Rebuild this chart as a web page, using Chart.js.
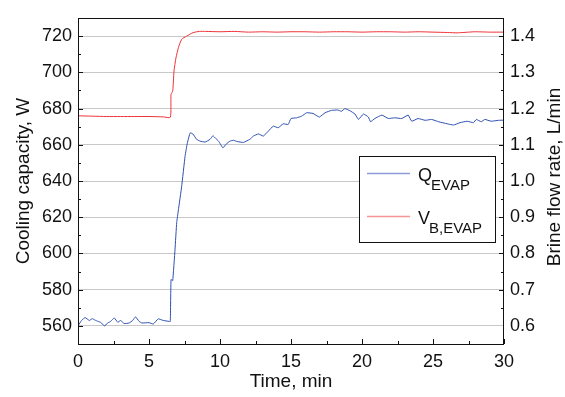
<!DOCTYPE html>
<html>
<head>
<meta charset="utf-8">
<script src="https://cdn.jsdelivr.net/npm/chart.js@4"></script>
<style>
  html, body { margin: 0; padding: 0; background: #fff; }
  #wrap { width: 565px; height: 397px; position: relative; }
</style>
</head>
<body>
<div id="wrap"><canvas id="CoolingChart"></canvas></div>
<script>
// Data
const qTime = [0, 0.25, 0.5, 0.8, 1.0, 1.2, 1.4, 1.6, 1.85, 2.1, 2.3, 2.55, 2.8, 3.0, 3.25, 3.6, 3.85, 4.05, 4.3, 4.5, 5.0, 5.3, 5.65, 6.0, 6.4, 6.5,
  6.55, 6.67, 6.83, 6.95, 7.07, 7.3, 7.54, 7.7, 7.9, 8.1, 8.35, 8.6, 8.95, 9.3, 9.5, 9.7, 9.9, 10.2, 10.45, 10.7, 10.95, 11.2, 11.65,
  12.1, 12.35, 12.7, 13.05, 13.4, 13.75, 14.1, 14.45, 14.8, 15.0, 15.4, 15.75, 16.1, 16.55, 17.0, 17.4, 17.85, 18.3, 18.55, 18.8,
  19.15, 19.5, 19.75, 20.1, 20.45, 20.6, 20.9, 21.4, 21.85, 22.3, 22.8, 23.25, 23.5, 23.95, 24.45, 24.9, 25.4, 26.0, 26.45, 26.9,
  27.4, 27.85, 28.05, 28.4, 28.65, 29.1, 29.6, 30];
const qValues = [560, 563, 564.6, 563, 564, 563.2, 562.5, 562, 560, 561.6, 562.5, 564.4, 562, 563, 561.3, 561.6, 563, 565, 562.5, 561.6, 561.8, 561, 563.9, 563, 562.5, 562.4,
  585.6, 585, 602, 617, 624, 637, 653.7, 661, 666.6, 665.9, 663, 662, 661.5, 663, 665, 663.5, 662, 658.3, 660.5, 662, 662.5, 661.8, 661.3,
  663, 664.8, 666, 664.8, 667.5, 670.3, 669.4, 671.6, 671.2, 674.5, 674.9, 675.8, 677.7, 677.3, 675.3, 677.7, 679, 679.2, 678.5, 680,
  678.8, 677, 674, 677, 675.3, 672.7, 674.5, 676.4, 674.5, 674.9, 674.5, 676.4, 673, 674.5, 673.5, 674, 672.7, 671.6, 670.9, 672.2,
  673, 672.2, 674, 672.7, 674, 673, 673.5, 673.6];

const vTime = [0, 1, 2, 3, 4, 5, 6, 6.5, 6.55, 6.67, 6.76, 6.9, 7.07, 7.3, 7.65, 8.1, 8.55, 9, 10, 11, 12, 13, 14, 15, 16, 17, 18, 19, 20,
  21, 22, 23, 24, 25, 26, 26.7, 27.5, 28, 29, 30];
const vValues = [1.180, 1.179, 1.178, 1.178, 1.178, 1.178, 1.177, 1.176, 1.239, 1.248, 1.3035, 1.34, 1.368, 1.391, 1.400, 1.4095, 1.413, 1.413,
  1.412, 1.413, 1.411, 1.412, 1.411, 1.412, 1.412, 1.411, 1.412, 1.412, 1.411, 1.412, 1.412, 1.411, 1.412, 1.411, 1.410, 1.409, 1.411,
  1.412, 1.411, 1.411];

const xTicks = [0, 5, 10, 15, 20, 25, 30];
const leftTicks = [560, 580, 600, 620, 640, 660, 680, 700, 720];
const rightTicks = [0.6, 0.7, 0.8, 0.9, 1.0, 1.1, 1.2, 1.3, 1.4];

(function () {
  "use strict";

  // Colors
  const line_blue  = '#2d4fb3';
  const line_red   = '#ee3338';
  const leg_blue   = '#8a9bd8';
  const leg_red    = '#f59596';
  const grid_gray  = '#c8c8c8';
  const ink        = '#111111';
  const fontFamily = '"Liberation Sans", Arial, Helvetica, sans-serif';

  function toPoints(xs, ys) {
    return xs.map(function (x, i) { return { x: x, y: ys[i] }; });
  }

  // frame + inward tick marks + right title
  const frameTicks = {
    id: 'frameTicks',
    afterDatasetsDraw: function (chart) {
      const ctx = chart.ctx;
      const a = chart.chartArea;
      const sx = chart.scales.x, sl = chart.scales.y, sr = chart.scales.y1;
      ctx.save();
      ctx.strokeStyle = ink;
      ctx.lineWidth = 1;
      ctx.strokeRect(Math.round(a.left) + 0.5, Math.round(a.top) + 0.5, Math.round(a.right - a.left) - 1, Math.round(a.bottom - a.top));
      ctx.beginPath();
      // bottom
      for (let v = 0; v <= 30; v += 2.5) {
        const px = Math.round(sx.getPixelForValue(v)) + 0.5;
        const len = (v % 5 === 0) ? 5 : 3;
        ctx.moveTo(px, a.bottom);
        ctx.lineTo(px, a.bottom - len);
      }
      // left
      for (let v = 560; v <= 720; v += 10) {
        const py = Math.round(sl.getPixelForValue(v)) + 0.5;
        const len = (v % 20 === 0) ? 5 : 3;
        ctx.moveTo(a.left, py);
        ctx.lineTo(a.left + len, py);
      }
      // right
      for (let i = 13; i <= 29; i++) {
        const v = i * 0.05;
        const py = Math.round(sr.getPixelForValue(v)) + 0.5;
        const len = (i % 2 === 0) ? 5 : 3;
        ctx.moveTo(a.right, py);
        ctx.lineTo(a.right - len, py);
      }
      ctx.stroke();

      // right axis title, reading bottom to top
      ctx.fillStyle = ink;
      ctx.font = '19px ' + fontFamily;
      ctx.textAlign = 'center';
      ctx.textBaseline = 'middle';
      ctx.translate(555, (a.top + a.bottom) / 2 - 4);
      ctx.rotate(-Math.PI / 2);
      ctx.fillText('Brine flow rate, L/min', 0, 0);
      ctx.restore();
    }
  };

  // legend box with subscripts
  const subLegend = {
    id: 'subLegend',
    afterDraw: function (chart) {
      const ctx = chart.ctx;
      ctx.save();
      ctx.fillStyle = '#fff';
      ctx.fillRect(359, 156, 136, 86);
      ctx.strokeStyle = ink;
      ctx.lineWidth = 1;
      ctx.strokeRect(359.5, 156.5, 136, 86);

      const rows = [
        { color: leg_blue, y: 173.5, main: 'Q', sub: 'EVAP' },
        { color: leg_red,  y: 216.5, main: 'V', sub: 'B,EVAP' }
      ];
      rows.forEach(function (r) {
        ctx.strokeStyle = r.color;
        ctx.lineWidth = 1.5;
        ctx.beginPath();
        ctx.moveTo(367, r.y);
        ctx.lineTo(410, r.y);
        ctx.stroke();
        ctx.fillStyle = ink;
        ctx.textAlign = 'left';
        ctx.textBaseline = 'alphabetic';
        ctx.font = '18px ' + fontFamily;
        ctx.fillText(r.main, 418, r.y + 7);
        const w = ctx.measureText(r.main).width;
        ctx.font = '15px ' + fontFamily;
        ctx.fillText(r.sub, 418 + w - 1, r.y + 16);
      });
      ctx.restore();
    }
  };

  const chart_el = document.getElementById('CoolingChart');
  if (chart_el != null) {
    const ctx = chart_el.getContext('2d');
    Chart.defaults.color = ink;
    Chart.defaults.font.family = fontFamily;

    new Chart(ctx, {
      type: 'line',
      data: {
        datasets: [{
          label: 'Q_EVAP',
          data: toPoints(qTime, qValues),
          yAxisID: 'y',
          borderColor: line_blue,
          borderWidth: 1,
          pointRadius: 0,
          tension: 0.1,
          fill: false
        }, {
          label: 'V_B,EVAP',
          data: toPoints(vTime, vValues),
          yAxisID: 'y1',
          borderColor: line_red,
          borderWidth: 1,
          pointRadius: 0,
          tension: 0.2,
          fill: false
        }]
      },
      options: {
        responsive: true,
        maintainAspectRatio: false,
        animation: false,
        events: [],
        layout: {
          autoPadding: false,
          padding: { top: 18, left: 0, right: 0, bottom: 0 }
        },
        scales: {
          x: {
            type: 'linear',
            min: 0,
            max: 30,
            afterBuildTicks: function (s) { s.ticks = xTicks.map(function (v) { return { value: v }; }); },
            afterFit: function (s) { s.height = 53; },
            grid: { display: false, drawTicks: false },
            border: { display: false },
            ticks: { padding: 7, maxRotation: 0, font: { size: 18 } },
            title: { display: true, text: 'Time, min', font: { size: 19 }, padding: { top: 0, bottom: 4 } }
          },
          y: {
            type: 'linear',
            position: 'left',
            min: 550,
            max: 730,
            afterBuildTicks: function (s) { s.ticks = leftTicks.map(function (v) { return { value: v }; }); },
            afterFit: function (s) { s.width = 78; },
            grid: { color: grid_gray, lineWidth: 1, drawTicks: false },
            border: { display: false },
            ticks: { padding: 6, font: { size: 18 } },
            title: { display: true, text: 'Cooling capacity, W', font: { size: 19 }, padding: { top: 12, bottom: 0 } }
          },
          y1: {
            type: 'linear',
            position: 'right',
            min: 0.55,
            max: 1.45,
            afterBuildTicks: function (s) { s.ticks = rightTicks.map(function (v) { return { value: v }; }); },
            afterFit: function (s) { s.width = 61; },
            grid: { display: false, drawTicks: false },
            border: { display: false },
            ticks: { padding: 6, font: { size: 18 }, callback: function (v) { return Number(v).toFixed(1); } }
          }
        },
        plugins: {
          legend: { display: false },
          tooltip: { enabled: false }
        }
      },
      plugins: [frameTicks, subLegend]
    });
  }
})();
</script>
</body>
</html>
